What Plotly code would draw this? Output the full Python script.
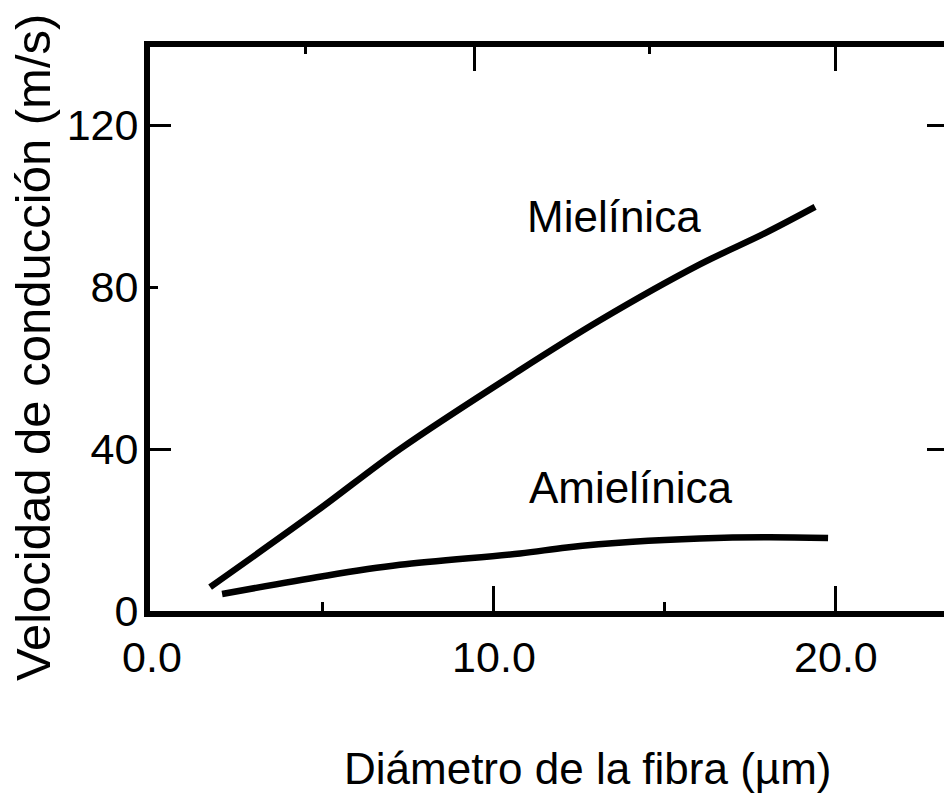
import plotly.graph_objects as go

# ---- data ----
x_mielinica = [1.70, 4.82, 7.25, 10.67, 13.10, 16.02, 17.9, 19.39]
y_mielinica = [5.9, 24.7, 40.0, 59.0, 71.8, 85.6, 93.2, 99.8]

x_amielinica = [2.05, 5.0, 7.25, 10.76, 12.13, 14.06, 16.02, 17.98, 19.77]
y_amielinica = [4.2, 8.6, 11.4, 14.2, 15.7, 17.1, 17.9, 18.2, 18.0]

x_tickvals = [0, 10, 20]
x_ticktext = ["0.0", "10.0", "20.0"]
x_major_marks = [10, 20]
x_minor_marks = [5, 15]
top_major_marks = [9.42, 20.0]
top_minor_marks = [4.5, 14.56]

y_tickvals = [0, 40, 80, 120]
y_ticktext = ["0", "40", "80", "120"]
y_long_marks = [40, 120]

labels = ["Mielínica", "Amielínica"]
label_x = [13.5, 14.0]
label_y = [97.5, 30.4]

x_title = "Diámetro de la fibra (µm)"
y_title = "Velocidad de conducción (m/s)"

# ---- layout params ----
W, H = 944, 794
L, R, T, B = 150, 0, 47, 183
X_RANGE = [-0.058, 23.16]
Y_RANGE = [0, 139.3]
NUM_FONT = dict(family="Liberation Sans, Arial", size=43, color="black")
TXT_FONT = dict(family="Liberation Sans, Arial", size=44, color="black")

fig = go.Figure()
line_style = dict(color="black", width=6.5, shape="spline", smoothing=1.0)
fig.add_trace(go.Scatter(x=x_mielinica, y=y_mielinica, mode="lines", line=line_style,
                         showlegend=False, hoverinfo="skip"))
fig.add_trace(go.Scatter(x=x_amielinica, y=y_amielinica, mode="lines", line=line_style,
                         showlegend=False, hoverinfo="skip"))

# empty traces so the overlay axes (used only for tick marks) are drawn
for xa, ya in [("x2", "y"), ("x3", "y"), ("x", "y2"), ("x", "y3")]:
    fig.add_trace(go.Scatter(x=[], y=[], xaxis=xa, yaxis=ya, mode="lines",
                             showlegend=False, hoverinfo="skip"))

for name, lx, ly in zip(labels, label_x, label_y):
    fig.add_annotation(x=lx, y=ly, xref="x", yref="y", text=name, showarrow=False,
                       font=TXT_FONT)

fig.add_annotation(x=(587 - L) / (W - L - R), y=-(768 - (H - B)) / (H - T - B),
                   xref="paper", yref="paper", text=x_title, showarrow=False,
                   font=TXT_FONT, xanchor="center", yanchor="middle")
fig.add_annotation(x=-(L - 33) / (W - L - R), y=(H - B - 348) / (H - T - B),
                   xref="paper", yref="paper", text=y_title, showarrow=False,
                   font=dict(family="Liberation Sans, Arial", size=49, color="black"),
                   textangle=-90, xanchor="center", yanchor="middle")

fig.update_layout(
    width=W, height=H,
    margin=dict(l=L, r=R, t=T, b=B, pad=0),
    paper_bgcolor="white", plot_bgcolor="white",
    showlegend=False,
    xaxis=dict(range=X_RANGE, showgrid=False, zeroline=False,
               showline=True, linecolor="black", linewidth=6,
               tickvals=x_tickvals, ticktext=x_ticktext, ticks="",
               tickfont=NUM_FONT, ticklabelstandoff=3),
    xaxis3=dict(range=X_RANGE, overlaying="x", side="bottom", anchor="y",
                showgrid=False, zeroline=False, showline=False,
                tickvals=x_major_marks, ticks="inside", ticklen=25, tickwidth=3,
                tickcolor="black", showticklabels=False,
                minor=dict(tickvals=x_minor_marks, ticks="inside", ticklen=9,
                           tickwidth=3, tickcolor="black", showgrid=False)),
    xaxis2=dict(range=X_RANGE, overlaying="x", side="top", anchor="y",
                showgrid=False, zeroline=False,
                showline=True, linecolor="black", linewidth=6,
                tickvals=top_major_marks, ticks="inside", ticklen=24, tickwidth=3,
                tickcolor="black", showticklabels=False,
                minor=dict(tickvals=top_minor_marks, ticks="inside", ticklen=7,
                           tickwidth=3, tickcolor="black", showgrid=False)),
    yaxis=dict(range=Y_RANGE, showgrid=False, zeroline=False,
               showline=True, linecolor="black", linewidth=6,
               tickvals=y_tickvals, ticktext=y_ticktext, ticks="inside",
               ticklen=8, tickwidth=3, tickcolor="black",
               tickfont=NUM_FONT, ticklabelstandoff=-3),
    yaxis2=dict(range=Y_RANGE, overlaying="y", side="left", anchor="x",
                showgrid=False, zeroline=False, showline=False,
                tickvals=y_long_marks, ticks="inside", ticklen=21, tickwidth=3,
                tickcolor="black", showticklabels=False),
    yaxis3=dict(range=Y_RANGE, overlaying="y", side="right", anchor="x",
                showgrid=False, zeroline=False, showline=False,
                tickvals=y_long_marks, ticks="inside", ticklen=17, tickwidth=3,
                tickcolor="black", showticklabels=False),
)

fig.write_html("out.html")
